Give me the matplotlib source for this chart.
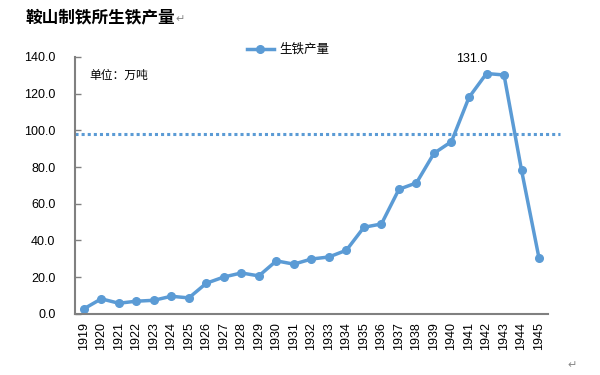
import matplotlib
matplotlib.use('Agg')
import matplotlib.pyplot as plt

plt.rcParams['font.family'] = ['Liberation Sans', 'Noto Sans CJK SC', 'DejaVu Sans']

years = [str(y) for y in range(1919, 1946)]
output = [2.7, 8.2, 5.8, 6.9, 7.4, 9.6, 8.7, 16.7, 20.1, 22.3, 20.7, 28.9, 27.1, 29.9,
          31.0, 34.7, 47.2, 49.0, 67.9, 71.4, 87.5, 93.9, 118.0, 131.0, 130.2, 78.3, 30.3]
avg_line = 98.0
yticks = [0, 20, 40, 60, 80, 100, 120, 140]
blue = '#5B9BD5'

fig = plt.figure(figsize=(6, 3.75), dpi=100)
ax = fig.add_axes([0.125, 0.163, 0.788, 0.685])

x = list(range(len(years)))
ax.plot(x, output, color=blue, lw=2.5, marker='o', ms=5.5, label='生铁产量')
ax.axhline(avg_line, xmin=0, xmax=1.025, color=blue, lw=2.2, ls=(0, (1, 1)), clip_on=False)

ax.set_xlim(-0.5, len(years) - 0.5)
ax.set_ylim(0, 140)
ax.set_yticks(yticks)
ax.set_yticklabels([f'{v:.1f}' for v in yticks], fontsize=9)
ax.set_xticks(x)
ax.set_xticklabels(years, rotation=90, fontsize=9)
ax.tick_params(axis='x', length=0, pad=6)
ax.tick_params(axis='y', direction='in', length=4, color='#808080', width=1, pad=14)

for s in ['top', 'right']:
    ax.spines[s].set_visible(False)
for s in ['left', 'bottom']:
    ax.spines[s].set_color('#808080')
    ax.spines[s].set_linewidth(1.5)

i_max = output.index(max(output))
ax.annotate(f'{output[i_max]:.1f}', (i_max, output[i_max]), xytext=(-11, 6),
            textcoords='offset points', ha='center', va='bottom', fontsize=9)

ax.legend(loc='upper center', bbox_to_anchor=(0.45, 1.095), frameon=False,
          fontsize=9, handlelength=2.2, handletextpad=0.4)

ax.text(0.03, 0.95, '单位：万吨', transform=ax.transAxes, fontsize=8.5, va='top')

fig.text(0.042, 0.955, '鞍山制铁所生铁产量', fontsize=12, fontweight='bold',
         family=['Noto Sans CJK SC'], va='center')
fig.text(0.292, 0.95, '↵', fontsize=8, color='#888888', family=['DejaVu Sans'], va='center')
fig.text(0.945, 0.027, '↵', fontsize=8, color='#888888', family=['DejaVu Sans'], va='center')

fig.savefig('out.png', dpi=100)
